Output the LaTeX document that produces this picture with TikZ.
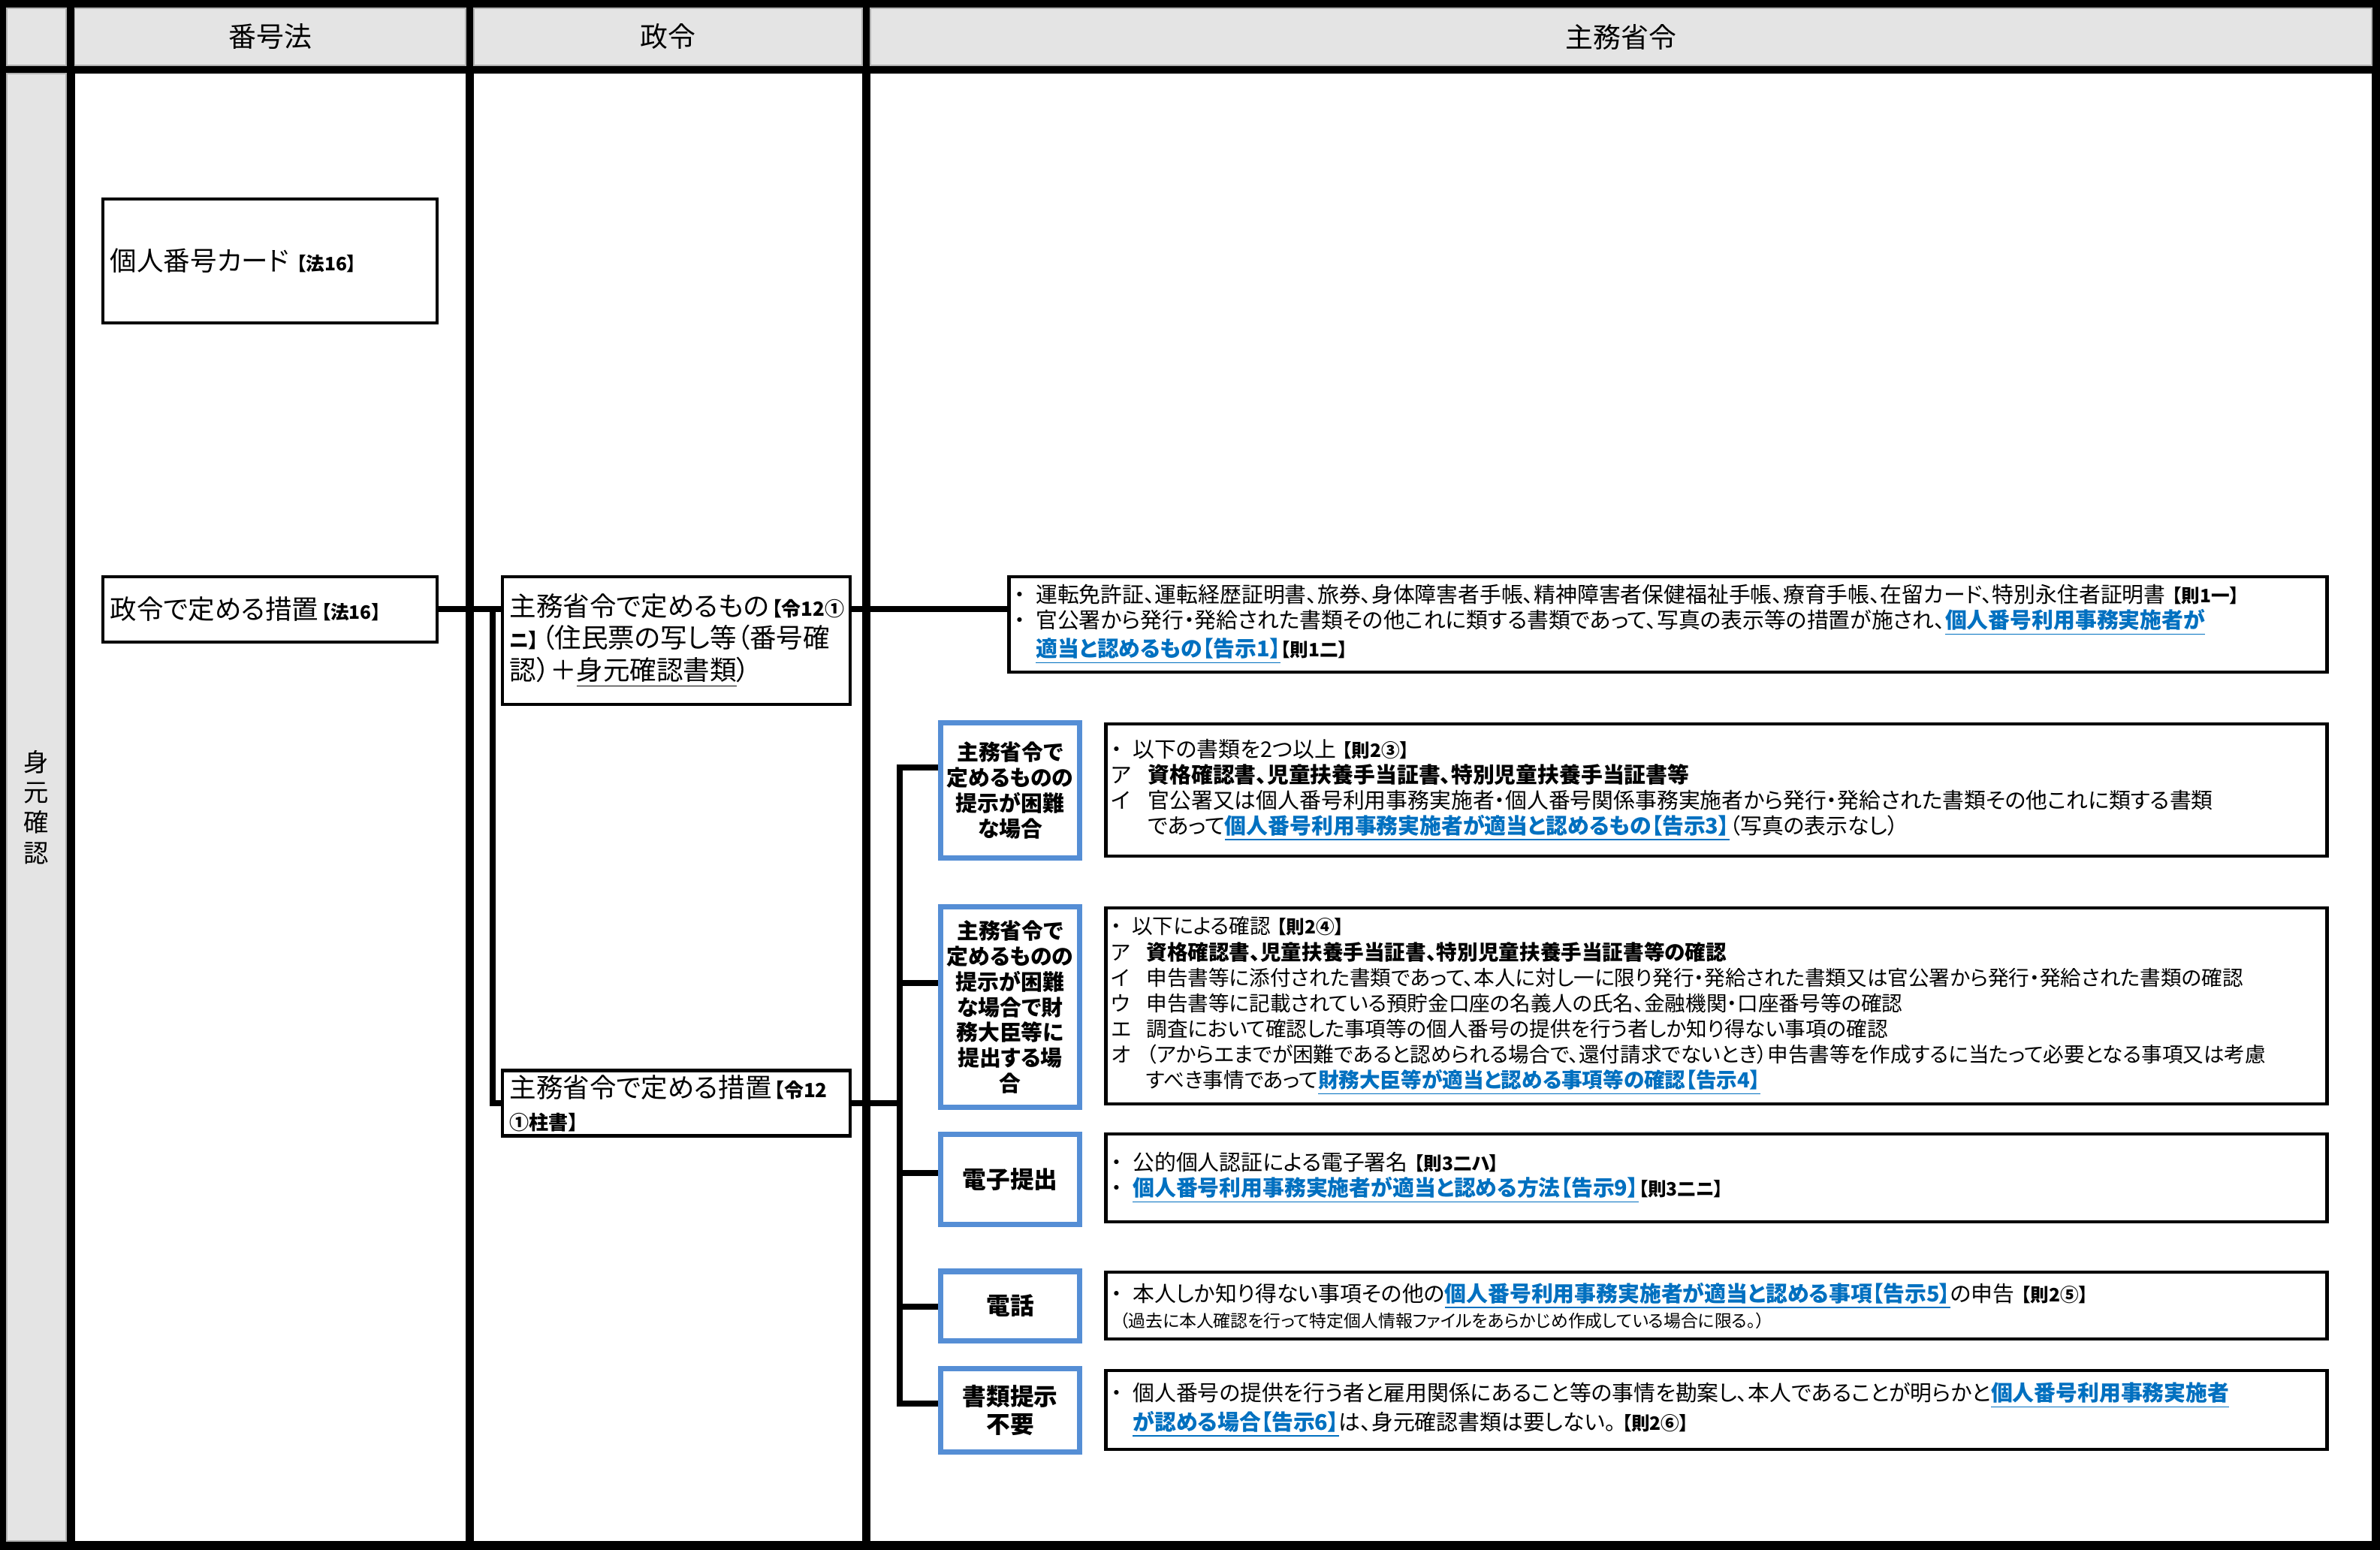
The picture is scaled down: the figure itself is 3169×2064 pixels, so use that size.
\documentclass[tikz,border=0pt]{standalone}
\usepackage{fontspec}
\setmainfont{Noto Sans CJK JP}[RawFeature={+palt}]
\usepackage{tikz}
\definecolor{LinkBlue}{HTML}{0070C0}
\definecolor{CaseBlue}{HTML}{558ED5}
\definecolor{HeadGray}{HTML}{E4E4E4}
\newcommand{\lnk}[1]{\textcolor{LinkBlue}{\bfseries\underline{#1}}}
\newcommand{\rf}[1]{{\fontsize{7}{8}\selectfont\bfseries #1}}
\newcommand{\rfb}[1]{{\fontsize{7.4}{8}\selectfont\bfseries #1}}
\newcommand{\itm}[3][1em]{\makebox[#1][l]{#2}#3}

\begin{document}
\begin{tikzpicture}[x=0.01cm, y=-0.01cm,
  hdr/.style={font=\fontsize{10.5}{12}\selectfont},
  lawbox/.style={draw, line width=1.2pt, fill=white, align=left, inner xsep=0.1cm,
                 inner ysep=0pt, font=\fontsize{10.1}{12.2}\selectfont},
  casebox/.style={draw=CaseBlue, line width=2pt, fill=white, align=center,
                  inner sep=0pt, minimum width=1.84cm,
                  font=\fontsize{8.2}{9.6}\selectfont\bfseries},
  casebig/.style={casebox, font=\fontsize{9}{10.4}\selectfont\bfseries},
  docbox/.style={draw, line width=1.3pt, fill=white, align=left, inner xsep=0.07cm,
                 inner ysep=0pt, font=\fontsize{8.2}{9.7}\selectfont},
  link/.style={line width=2.2pt}]
  % frame and columns
  \fill (0,0) rectangle (3169,2064);
  \foreach \xa/\xb in {99.5/620, 631/1148, 1159/3158} {
    \fill[HeadGray, draw=gray!60] (\xa,11) rectangle (\xb,87);
    \fill[white] (\xa,98) rectangle (\xb,2052);
  }
  \fill[HeadGray, draw=gray!60] (9,11) rectangle (88,87);
  \fill[HeadGray, draw=gray!60] (9,98) rectangle (88,2052);
  % headers
  \node[hdr] (hLaw) at (360,49) {番号法};
  \node[hdr] (hOrd) at (889.5,49) {政令};
  \node[hdr] (hMin) at (2158.5,49) {主務省令};
  \node[align=center, font=\fontsize{9.5}{11.4}\selectfont] (hId) at (48.5,1075) {身\\元\\確\\認};
  % 番号法
  \node[lawbox, minimum width=4.45cm, minimum height=1.65cm, text width=4.25cm] (card)
    at (359.5,347.5) {個人番号カード\hspace{0.3em}\rf{【法16】}};
  \node[lawbox, minimum width=4.45cm, minimum height=0.87cm, text width=4.25cm] (seirei)
    at (359.5,811.5) {政令で定める措置\kern1pt\rf{【法16】}};
  % 政令
  \node[lawbox, minimum width=4.63cm, minimum height=1.70cm, text width=4.43cm] (m1)
    at (900.5,853) {主務省令で定めるもの\kern1pt\rfb{【令12①}\\\rfb{ニ】}\kern1pt（住民票の写し等（番号確\\認）＋\underline{身元確認書類}）};
  \node[lawbox, minimum width=4.63cm, minimum height=0.87cm, text width=4.43cm] (m2)
    at (900.5,1469) {主務省令で定める措置\kern1pt\rfb{【令12}\\\rfb{①柱書】}};
  % 主務省令
  \node[docbox, minimum width=17.54cm, minimum height=1.27cm, text width=17.40cm] (doc0)
    at (2221,831.5) {\itm{・}{運転免許証、運転経歴証明書、旅券、身体障害者手帳、精神障害者保健福祉手帳、療育手帳、在留カード、特別永住者証明書\hspace{0.3em}\rf{【則1一】}}\\
    \itm{・}{官公署から発行・発給された書類その他これに類する書類であって、写真の表示等の措置が施され、\lnk{個人番号利用事務実施者が}}\\
    \itm{}{\lnk{適当と認めるもの【告示1】}\rf{【則1二】}}};
  \node[casebox, minimum height=1.79cm] (caseA) at (1345,1052.5)
    {主務省令で\\定めるものの\\提示が困難\\な場合};
  \node[casebox, minimum height=2.66cm] (caseB) at (1345,1341)
    {主務省令で\\定めるものの\\提示が困難\\な場合で財\\務大臣等に\\提出する場\\合};
  \node[casebig, minimum height=1.19cm] (caseC) at (1345,1570.5) {電子提出};
  \node[casebig, minimum height=0.92cm] (caseD) at (1345,1739) {電話};
  \node[casebig, minimum height=1.10cm] (caseE) at (1345,1878) {書類提示\\不要};
  \node[docbox, minimum width=16.25cm, minimum height=1.76cm, text width=16.11cm] (docA)
    at (2285.5,1052) {\itm{・}{以下の書類を2つ以上\hspace{0.3em}\rf{【則2③】}}\\
    \itm[1.7em]{ア}{\textbf{資格確認書、児童扶養手当証書、特別児童扶養手当証書等}}\\
    \itm[1.7em]{イ}{官公署又は個人番号利用事務実施者・個人番号関係事務実施者から発行・発給された書類その他これに類する書類}\\
    \itm[1.7em]{}{であって\lnk{個人番号利用事務実施者が適当と認めるもの【告示3】}（写真の表示なし）}};
  \node[docbox, minimum width=16.25cm, minimum height=2.61cm, text width=16.11cm,
        font=\fontsize{7.85}{9.7}\selectfont] (docB)
    at (2285.5,1339.5) {\itm{・}{以下による確認\hspace{0.3em}\rf{【則2④】}}\\
    \itm[1.7em]{ア}{\textbf{資格確認書、児童扶養手当証書、特別児童扶養手当証書等の確認}}\\
    \itm[1.7em]{イ}{申告書等に添付された書類であって、本人に対し一に限り発行・発給された書類又は官公署から発行・発給された書類の確認}\\
    \itm[1.7em]{ウ}{申告書等に記載されている預貯金口座の名義人の氏名、金融機関・口座番号等の確認}\\
    \itm[1.7em]{エ}{調査において確認した事項等の個人番号の提供を行う者しか知り得ない事項の確認}\\
    \itm[1.7em]{オ}{（アからエまでが困難であると認められる場合で、還付請求でないとき）申告書等を作成するに当たって必要となる事項又は考慮}\\
    \itm[1.7em]{}{すべき事情であって\lnk{財務大臣等が適当と認める事項等の確認【告示4】}}};
  \node[docbox, minimum width=16.25cm, minimum height=1.17cm, text width=16.11cm] (docC)
    at (2285.5,1568.5) {\itm{・}{公的個人認証による電子署名\hspace{0.3em}\rf{【則3二ハ】}}\\
    \itm{・}{\lnk{個人番号利用事務実施者が適当と認める方法【告示9】}\rf{【則3二ニ】}}};
  \node[docbox, minimum width=16.25cm, minimum height=0.89cm, text width=16.11cm] (docD)
    at (2285.5,1738.5) {\itm{・}{本人しか知り得ない事項その他の\lnk{個人番号利用事務実施者が適当と認める事項【告示5】}の申告\hspace{0.3em}\rf{【則2⑤】}}\\
    \hspace{0.4em}{\fontsize{6.5}{8}\selectfont（過去に本人確認を行って特定個人情報ファイルをあらかじめ作成している場合に限る。）}};
  \node[docbox, minimum width=16.25cm, minimum height=1.05cm, text width=16.11cm] (docE)
    at (2285.5,1877.5) {\itm{・}{個人番号の提供を行う者と雇用関係にあること等の事情を勘案し、本人であることが明らかと\lnk{個人番号利用事務実施者}}\\
    \itm{}{\lnk{が認める場合【告示6】}は、身元確認書類は要しない。\hspace{0.3em}\rf{【則2⑥】}}};
  % 番号法 -> 政令
  \coordinate (j1) at (656,811);
  \draw[link] (seirei.east |- j1) -- (j1 -| m1.west);
  \draw[link] (j1) |- (m2.west);
  % 政令 -> 主務省令
  \draw[link] (m1.east |- j1) -- (j1 -| doc0.west);
  \coordinate (bA) at (1198,1022);
  \coordinate (bB) at (1198,1309);
  \coordinate (bC) at (1198,1562);
  \coordinate (bD) at (1198,1740);
  \coordinate (bE) at (1198,1869);
  \draw[link] (m2.east) -- (m2.east -| bA);
  \draw[link] (bA -| caseA.west) -- (bA) -- (bE) -- (bE -| caseE.west);
  \foreach \b/\c in {bB/caseB, bC/caseC, bD/caseD}
    \draw[link] (\b) -- (\b -| \c.west);
\end{tikzpicture}
\end{document}
